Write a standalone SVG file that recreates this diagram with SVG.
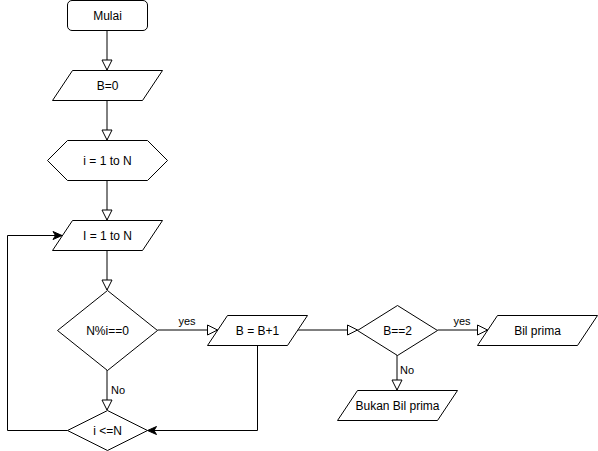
<svg xmlns="http://www.w3.org/2000/svg" width="598" height="451" viewBox="0 0 598 451">
<style>
.s{fill:#fff;stroke:#000;stroke-width:1}
.e{fill:none;stroke:#000;stroke-width:1}
.t{font-family:"Liberation Sans",Arial,sans-serif;font-size:12px;fill:#000;text-anchor:middle;dominant-baseline:central}
.l{font-family:"Liberation Sans",Arial,sans-serif;font-size:11px;fill:#000;text-anchor:middle;dominant-baseline:central}
</style>
<defs>
<marker id="blk" markerUnits="userSpaceOnUse" markerWidth="12" markerHeight="12" refX="10" refY="5" orient="auto" overflow="visible">
<path d="M0,0 L10,5 L0,10 Z" fill="#fff" stroke="#000" stroke-width="1"/>
</marker>
<marker id="cls" markerUnits="userSpaceOnUse" markerWidth="12" markerHeight="12" refX="9" refY="4" orient="auto" overflow="visible">
<path d="M0,0 L9,4 L0,8 L2.5,4 Z" fill="#000" stroke="#000" stroke-width="1"/>
</marker>
</defs>
<rect width="598" height="451" fill="#fff"/>
<g id="connectors">
<path class="e" d="M107,30.5 L107,70" marker-end="url(#blk)"/>
<path class="e" d="M107,100 L107,140" marker-end="url(#blk)"/>
<path class="e" d="M107,180 L107,220" marker-end="url(#blk)"/>
<path class="e" d="M107,250 L107,290" marker-end="url(#blk)"/>
<path class="e" d="M157.5,330 L217.5,330" marker-end="url(#blk)"/>
<path class="e" d="M107,370 L107,410" marker-end="url(#blk)"/>
<path class="e" d="M67.5,430.5 L7.5,430.5 L7.5,235.5 L62,235.5" marker-end="url(#cls)"/>
<path class="e" d="M257.5,345 L257.5,430.5 L147.5,430.5" marker-end="url(#cls)"/>
<path class="e" d="M297.5,330 L357.5,330" marker-end="url(#blk)"/>
<path class="e" d="M437.5,330 L487.5,330" marker-end="url(#blk)"/>
<path class="e" d="M397,355 L397,390" marker-end="url(#blk)"/>
<text class="l" x="187" y="321">yes</text>
<text class="l" x="118" y="390">No</text>
<text class="l" x="462" y="321">yes</text>
<text class="l" x="407" y="370">No</text>
</g>
<g id="mulai">
<rect class="s" x="67.5" y="0.5" width="80" height="30" rx="4.5" ry="4.5"/>
<text class="t" x="107.5" y="15.5">Mulai</text>
</g>
<g id="b0">
<path class="s" d="M72.5,70.5 L162.5,70.5 L142.5,100.5 L52.5,100.5 Z"/>
<text class="t" x="107.5" y="85.5">B=0</text>
</g>
<g id="loop1">
<path class="s" d="M67.5,140.5 L147.5,140.5 L167.5,160.5 L147.5,180.5 L67.5,180.5 L47.5,160.5 Z"/>
<text class="t" x="107.5" y="160.5">i = 1 to N</text>
</g>
<g id="loop2">
<path class="s" d="M72.5,220.5 L162.5,220.5 L142.5,250.5 L52.5,250.5 Z"/>
<text class="t" x="107.5" y="235.5">I = 1 to N</text>
</g>
<g id="cond1">
<path class="s" d="M107.5,290.5 L157.5,330.5 L107.5,370.5 L57.5,330.5 Z"/>
<text class="t" x="107.5" y="330.5">N%i==0</text>
</g>
<g id="inc">
<path class="s" d="M227.5,315.5 L307.5,315.5 L287.5,345.5 L207.5,345.5 Z"/>
<text class="t" x="257.5" y="330.5">B = B+1</text>
</g>
<g id="cond2">
<path class="s" d="M107.5,410.5 L147.5,430.5 L107.5,450.5 L67.5,430.5 Z"/>
<text class="t" x="107.5" y="430.5">i &lt;=N</text>
</g>
<g id="cond3">
<path class="s" d="M397.5,305.5 L437.5,330.5 L397.5,355.5 L357.5,330.5 Z"/>
<text class="t" x="397.5" y="330.5">B==2</text>
</g>
<g id="prima">
<path class="s" d="M497.5,315.5 L597.5,315.5 L577.5,345.5 L477.5,345.5 Z"/>
<text class="t" x="537.5" y="330.5">Bil prima</text>
</g>
<g id="bukan">
<path class="s" d="M357.5,390.5 L457.5,390.5 L437.5,420.5 L337.5,420.5 Z"/>
<text class="t" x="397.5" y="405.5">Bukan Bil prima</text>
</g>
</svg>
